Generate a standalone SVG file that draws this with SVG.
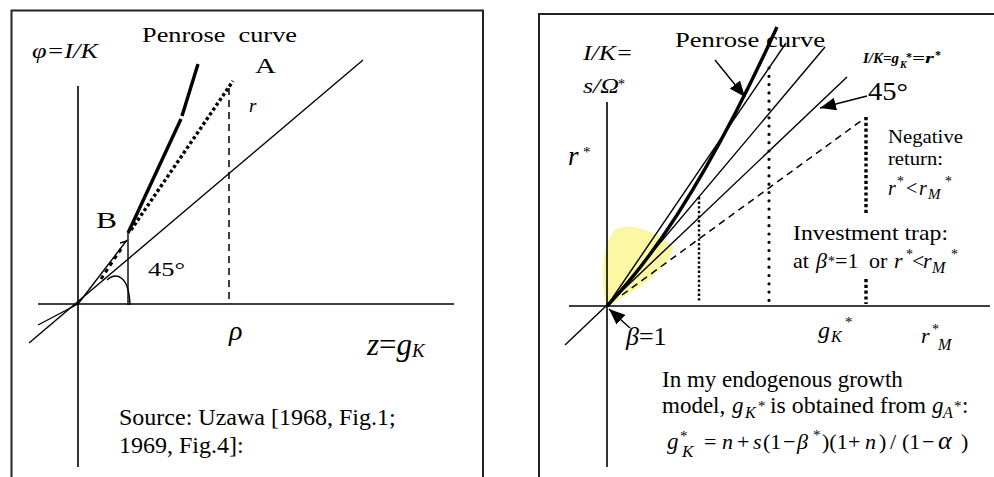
<svg xmlns="http://www.w3.org/2000/svg" width="994" height="477" viewBox="0 0 994 477">
<style>
text{font-family:"Liberation Serif","Times New Roman",serif;fill:#000}
.i{font-style:italic}
.bi{font-style:italic;font-weight:bold}
.ln{stroke:#000;stroke-width:1.4;fill:none}
.ax{stroke:#000;stroke-width:1.6;fill:none}
.thick{stroke:#000;stroke-width:3.4;fill:none}
.box{stroke:#222;stroke-width:2;fill:#fff}
.dash{stroke:#000;stroke-width:1.5;stroke-dasharray:7 5;fill:none}
.sq{stroke:#000;stroke-width:3.4;stroke-dasharray:3.2 2.6;fill:none}
.rd{stroke:#000;stroke-width:3.2;stroke-linecap:round;stroke-dasharray:0 8.3;fill:none}
.fine{stroke:#000;stroke-width:2.4;stroke-dasharray:2.4 2.2;fill:none}
</style>
<defs>
<marker id="ah" markerUnits="userSpaceOnUse" markerWidth="17" markerHeight="13" refX="16" refY="6.5" orient="auto">
<path d="M0,0 L16,6.5 L0,13 Z" fill="#000"/>
</marker>
</defs>
<rect width="994" height="477" fill="#fff"/>

<!-- LEFT PANEL -->
<g id="left-panel">
<rect class="box" x="11.5" y="10.5" width="471.5" height="490"/>
<g id="left-axes">
<line class="ax" x1="78" y1="86" x2="78" y2="467"/>
<line class="ax" x1="38" y1="304" x2="454" y2="304"/>
</g>
<g id="left-connectors">
<line class="ln" x1="29" y1="343" x2="363" y2="60"/>
<line class="ln" x1="38" y1="325" x2="78" y2="304"/>
<line class="ln" x1="78" y1="304" x2="127" y2="240"/>
<path class="ln" d="M120,243 L127,241"/>
<line class="ln" x1="128" y1="233" x2="128" y2="305"/>
<path class="ln" d="M107,280 C116,272 129,275 130,305"/>
<line class="dash" x1="229" y1="88" x2="229" y2="304"/>
<line class="sq" x1="131" y1="230" x2="233" y2="81"/>
<line stroke="#000" stroke-width="3" stroke-dasharray="4 4" x1="101" y1="279" x2="121" y2="249"/>
<line class="thick" x1="128" y1="233" x2="181" y2="119"/>
<line class="thick" x1="182" y1="116" x2="198" y2="64"/>
</g>
<g id="left-labels">
<text x="142" y="42" font-size="22" textLength="155" lengthAdjust="spacingAndGlyphs" xml:space="preserve">Penrose  curve</text>
<text class="i" x="32" y="58" font-size="20" textLength="66" lengthAdjust="spacingAndGlyphs">φ=I/K</text>
<text x="255" y="73" font-size="22" textLength="21" lengthAdjust="spacingAndGlyphs">A</text>
<text class="i" x="249" y="112" font-size="19">r</text>
<text x="96" y="228" font-size="23" textLength="21" lengthAdjust="spacingAndGlyphs">B</text>
<text x="148" y="276" font-size="19" textLength="37" lengthAdjust="spacingAndGlyphs">45°</text>
<text class="i" x="229" y="340" font-size="28">ρ</text>
<text x="367" y="355" font-size="31"><tspan class="i">z</tspan>=<tspan class="i">g</tspan></text>
<text class="i" x="412" y="357" font-size="19">K</text>
<text x="119" y="425" font-size="24">Source: Uzawa [1968, Fig.1;</text>
<text x="119" y="453" font-size="24">1969, Fig.4]:</text>
</g>
</g>

<!-- RIGHT PANEL -->
<g id="right-panel">
<rect class="box" x="539" y="14" width="480" height="490"/>
<path id="trap-zone" d="M607,306 C600,285 600,245 616,229 C632,222 660,232 674,248 C666,268 640,290 607,306 Z" fill="#fcf7a2"/>
<g id="right-labels">
<text class="i" x="583" y="60" font-size="20" textLength="50" lengthAdjust="spacingAndGlyphs">I/K=</text>
<text class="i" x="583" y="93" font-size="21" textLength="36" lengthAdjust="spacingAndGlyphs">s/Ω</text>
<text x="618" y="89" font-size="14">*</text>
<text class="i" x="568" y="165" font-size="27">r</text>
<text x="583" y="157" font-size="15">*</text>
<text x="675" y="47" font-size="22" textLength="150" lengthAdjust="spacingAndGlyphs">Penrose curve</text>
<text class="bi" x="863" y="63" font-size="15" textLength="36" lengthAdjust="spacingAndGlyphs">I/K=g</text>
<text class="bi" x="900" y="68" font-size="10">K</text>
<text x="906" y="61" font-size="12" font-weight="bold">*</text>
<text class="bi" x="912" y="63" font-size="15" textLength="22" lengthAdjust="spacingAndGlyphs">=r</text>
<text x="935" y="59" font-size="12" font-weight="bold">*</text>
<text x="868" y="100" font-size="25" textLength="40" lengthAdjust="spacingAndGlyphs">45°</text>
<text x="888" y="143" font-size="19" textLength="75" lengthAdjust="spacingAndGlyphs">Negative</text>
<text x="888" y="165" font-size="19" textLength="55" lengthAdjust="spacingAndGlyphs">return:</text>
<text class="i" x="888" y="195" font-size="20">r</text>
<text x="897" y="186" font-size="14">*</text>
<text x="906" y="195" font-size="20">&lt;</text>
<text class="i" x="919" y="195" font-size="20">r</text>
<text class="i" x="928" y="199" font-size="15">M</text>
<text x="945" y="186" font-size="14">*</text>
<text x="793" y="240" font-size="22" textLength="155" lengthAdjust="spacingAndGlyphs">Investment trap:</text>
<text x="793" y="268" font-size="22">at</text>
<text class="i" x="816" y="268" font-size="22">β</text>
<text x="828" y="266" font-size="14">*</text>
<text x="835" y="268" font-size="22">=1</text>
<text x="869" y="268" font-size="22">or</text>
<text class="i" x="894" y="268" font-size="22">r</text>
<text x="906" y="259" font-size="14">*</text>
<text x="912" y="268" font-size="22">&lt;</text>
<text class="i" x="923" y="268" font-size="22">r</text>
<text class="i" x="932" y="273" font-size="16">M</text>
<text x="951" y="259" font-size="14">*</text>
<text x="626" y="345" font-size="26"><tspan class="i">β</tspan>=1</text>
<text class="i" x="818" y="338" font-size="24">g</text>
<text class="i" x="831" y="342" font-size="16">K</text>
<text x="845" y="327" font-size="15">*</text>
<text class="i" x="921" y="343" font-size="22">r</text>
<text x="932" y="334" font-size="14">*</text>
<text class="i" x="938" y="350" font-size="16">M</text>
</g>
<g id="note">
<text x="662" y="387" font-size="23">In my endogenous growth</text>
<text x="662" y="413" font-size="23">model,</text>
<text class="i" x="732" y="413" font-size="23">g</text>
<text class="i" x="745" y="418" font-size="16">K</text>
<text x="758" y="411" font-size="15">*</text>
<text x="770" y="413" font-size="23" textLength="156" lengthAdjust="spacingAndGlyphs">is obtained from</text>
<text class="i" x="932" y="413" font-size="23">g</text>
<text class="i" x="943" y="418" font-size="16">A</text>
<text x="954" y="411" font-size="15">*</text>
<text x="962" y="413" font-size="23">:</text>
<text class="i" x="667" y="449" font-size="23">g</text>
<text x="680" y="441" font-size="15">*</text>
<text class="i" x="682" y="457" font-size="17">K</text>
<text x="704" y="449" font-size="22">=</text>
<text class="i" x="722" y="449" font-size="22">n</text>
<text x="737" y="449" font-size="22">+</text>
<text class="i" x="753" y="449" font-size="22">s</text>
<text x="763" y="449" font-size="22">(1</text>
<text x="783" y="449" font-size="22">−</text>
<text class="i" x="797" y="449" font-size="22">β</text>
<text x="813" y="440" font-size="15">*</text>
<text x="822" y="449" font-size="22">)(1</text>
<text x="848" y="449" font-size="22">+</text>
<text class="i" x="865" y="449" font-size="22">n</text>
<text x="879" y="449" font-size="22">)</text>
<text x="890" y="449" font-size="22">/</text>
<text x="902" y="449" font-size="22">(1</text>
<text x="922" y="449" font-size="22">−</text>
<text class="i" x="938" y="449" font-size="26">α</text>
<text x="961" y="449" font-size="22">)</text>
</g>
<g id="right-axes">
<line class="ax" x1="607" y1="102" x2="607" y2="467"/>
<line class="ax" x1="569" y1="306" x2="990" y2="306"/>
</g>
<g id="right-connectors">
<line class="ln" x1="565" y1="345" x2="847" y2="77"/>
<line class="ln" x1="607" y1="306" x2="825" y2="47"/>
<line class="ln" x1="607" y1="306" x2="786" y2="43"/>
<path class="thick" d="M607,306 Q688,222 777,27"/>
<line class="dash" x1="622" y1="295" x2="865" y2="118"/>
<line class="fine" x1="699" y1="197" x2="699" y2="301"/>
<line class="rd" x1="769" y1="68" x2="769" y2="302"/>
<line class="sq" x1="866" y1="117" x2="866" y2="214"/>
<line class="sq" x1="866" y1="279" x2="866" y2="304"/>
<line class="ln" stroke-width="1.6" x1="715" y1="60" x2="745" y2="97" marker-end="url(#ah)"/>
<line class="ln" stroke-width="1.6" x1="867" y1="96" x2="820" y2="108" marker-end="url(#ah)"/>
<line class="ln" stroke-width="1.8" x1="630" y1="328" x2="609" y2="309" marker-end="url(#ah)"/>
</g>
</g>
</svg>
